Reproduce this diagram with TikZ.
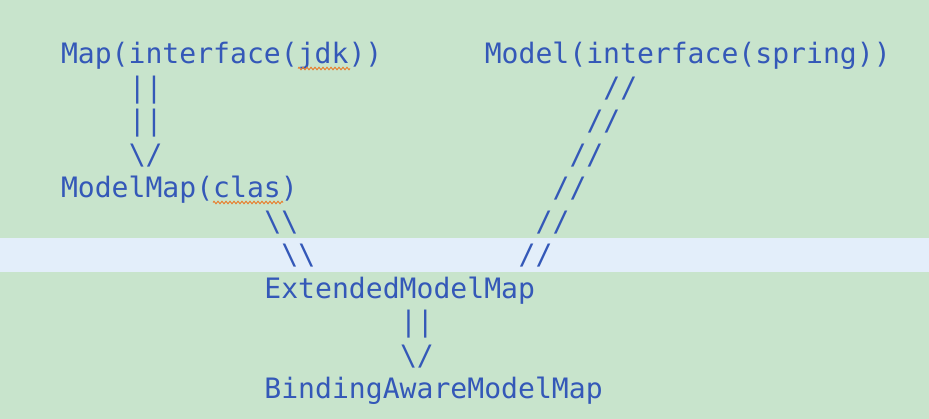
\documentclass[tikz,border=0pt]{standalone}
\usepackage{fontspec}
\setmonofont{DejaVu Sans Mono}
\usetikzlibrary{decorations.pathmorphing}
\definecolor{bggreen}{RGB}{200,228,204}
\definecolor{bandblue}{RGB}{227,238,250}
\definecolor{codeblue}{RGB}{52,88,184}
\definecolor{spellred}{RGB}{232,128,48}
\tikzset{
  code/.style={anchor=base west, inner sep=0pt, outer sep=0pt, text=codeblue,
    font=\ttfamily\fontsize{28.1}{33}\selectfont},
  squiggle/.style={draw=spellred, line width=0.9pt,
    decorate, decoration={zigzag, amplitude=1.3pt, segment length=4pt}}
}
\begin{document}
\begin{tikzpicture}[x=1pt,y=-1pt]
\fill[bggreen] (0,0) rectangle (929,419);
\fill[bandblue] (0,238) rectangle (929,272);
\useasboundingbox (0,0) rectangle (929,419);
% grid: x = 61 + col*16.95, baseline y = 64 + row*33.5
\node[code] (map)   at (61,64)      {Map(interface(jdk))};
\node[code] (model) at (484.75,64)  {Model(interface(spring))};
\node[code] (l1)    at (128.8,97.5) {||};
\node[code] (r1)    at (603.4,97.5) {//};
\node[code] (l2)    at (128.8,131)  {||};
\node[code] (r2)    at (586.5,131)  {//};
\node[code] (l3)    at (128.8,164.5){\textbackslash/};
\node[code] (r3)    at (569.5,164.5){//};
\node[code] (mm)    at (61,198)     {ModelMap(clas)};
\node[code] (r4)    at (552.6,198)  {//};
\node[code] (d1)    at (264.4,231.5){\textbackslash\textbackslash};
\node[code] (r5)    at (535.6,231.5){//};
\node[code] (d2)    at (281.4,265)  {\textbackslash\textbackslash};
\node[code] (r6)    at (518.7,265)  {//};
\node[code] (emm)   at (264.4,298.5){ExtendedModelMap};
\node[code] (b1)    at (400,332)    {||};
\node[code] (b2)    at (400,365.5)  {\textbackslash/};
\node[code] (bamm)  at (264.4,399)  {BindingAwareModelMap};
% spell-check underlines
\coordinate (s1a) at (298,68.5);
\coordinate (s1b) at (350,68.5);
\coordinate (s2a) at (213,202.5);
\coordinate (s2b) at (283,202.5);
\draw[squiggle] (s1a) -- (s1b);
\draw[squiggle] (s2a) -- (s2b);
\end{tikzpicture}
\end{document}
